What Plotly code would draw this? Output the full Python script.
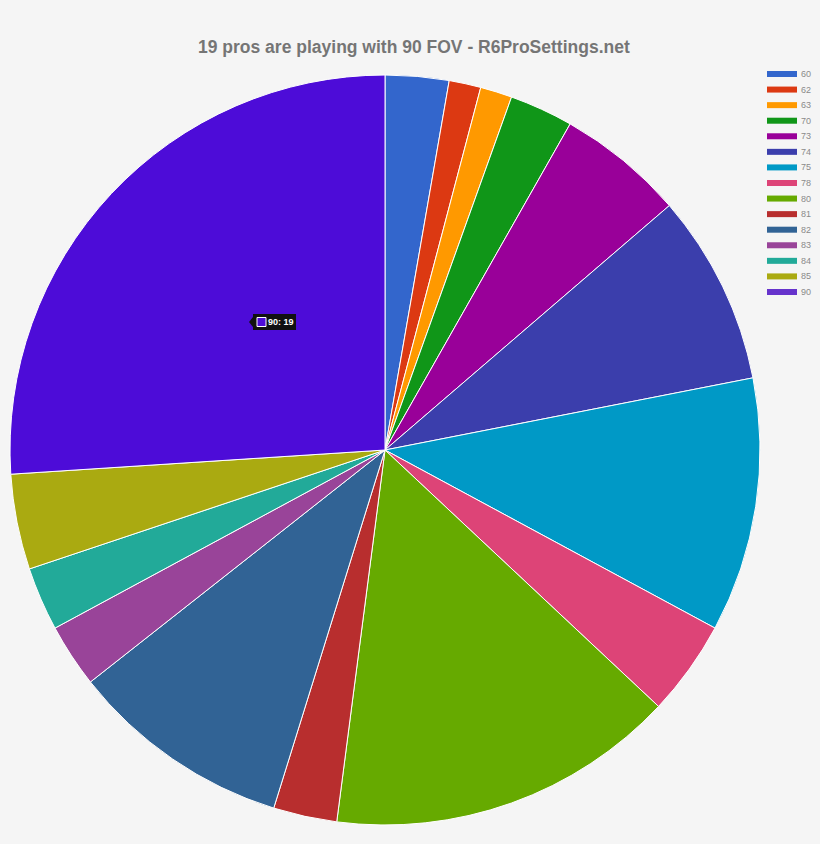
import plotly.graph_objects as go

labels = ["60", "62", "63", "70", "73", "74", "75", "78", "80", "81", "82", "83", "84", "85", "90"]
values = [2, 1, 1, 2, 4, 6, 8, 3, 11, 2, 7, 2, 2, 3, 19]
legend_colors = ["#3366cc", "#dc3912", "#ff9900", "#109618", "#990099", "#3b3eac", "#0099c6",
                 "#dd4477", "#66aa00", "#b82e2e", "#316395", "#994499", "#22aa99", "#aaaa11", "#6633cc"]
slice_colors = legend_colors[:-1] + ["#4d0cd8"]  # 90 slice shown highlighted
title_text = "19 pros are playing with 90 FOV - R6ProSettings.net"
tooltip_text = "90: 19"

W, H = 820, 844
cx, cy, r = 385, 450, 375

fig = go.Figure(go.Pie(
    labels=labels, values=values, sort=False, direction="clockwise", rotation=0,
    marker=dict(colors=slice_colors, line=dict(color="#ffffff", width=1)),
    textinfo="none", hoverinfo="label+value", showlegend=False,
    domain=dict(x=[(cx - r) / W, (cx + r) / W], y=[(H - cy - r) / H, (H - cy + r) / H]),
))

shapes = []
annotations = []
y0 = 74
step = 15.57
for i, (lab, col) in enumerate(zip(labels, legend_colors)):
    yc = y0 + i * step
    shapes.append(dict(type="rect", xref="paper", yref="paper",
                       x0=767 / W, x1=797 / W, y0=1 - (yc - 3) / H, y1=1 - (yc + 3) / H,
                       fillcolor=col, line=dict(width=0)))
    annotations.append(dict(text=lab, xref="paper", yref="paper", x=799 / W, y=1 - yc / H,
                            xanchor="left", yanchor="middle", showarrow=False,
                            font=dict(family="Arial, Liberation Sans", size=9, color="#8a8a8a")))

# title
annotations.append(dict(text="<b>" + title_text + "</b>", xref="paper", yref="paper",
                        x=414 / W, y=1 - 47 / H, xanchor="center", yanchor="middle", showarrow=False,
                        font=dict(family="Arial, Liberation Sans", size=17.5, color="#757575")))

# tooltip
tx, ty = 253, 322
shapes.append(dict(type="rect", xref="paper", yref="paper",
                   x0=tx / W, x1=(tx + 43) / W, y0=1 - (ty - 8) / H, y1=1 - (ty + 8) / H,
                   fillcolor="#111111", line=dict(width=0)))
shapes.append(dict(type="path", xref="paper", yref="paper",
                   path=f"M {tx/W} {1-(ty-5)/H} L {(tx-4)/W} {1-ty/H} L {tx/W} {1-(ty+5)/H} Z",
                   fillcolor="#111111", line=dict(width=0)))
shapes.append(dict(type="rect", xref="paper", yref="paper",
                   x0=(tx + 4) / W, x1=(tx + 13) / W, y0=1 - (ty - 4.5) / H, y1=1 - (ty + 4.5) / H,
                   fillcolor="#4d0cd8", line=dict(color="#ffffff", width=1)))
annotations.append(dict(text="<b>" + tooltip_text + "</b>", xref="paper", yref="paper",
                        x=(tx + 13) / W, y=1 - ty / H, xanchor="left", yanchor="middle", showarrow=False,
                        font=dict(family="Arial, Liberation Sans", size=9, color="#ffffff")))

fig.update_layout(
    width=W, height=H, margin=dict(l=0, r=0, t=0, b=0),
    paper_bgcolor="#f5f5f5", plot_bgcolor="#f5f5f5",
    shapes=shapes, annotations=annotations,
)
fig.write_html("out.html", config={"displayModeBar": False},
               post_script="document.body.style.margin='0';document.body.style.background='#f5f5f5';")
